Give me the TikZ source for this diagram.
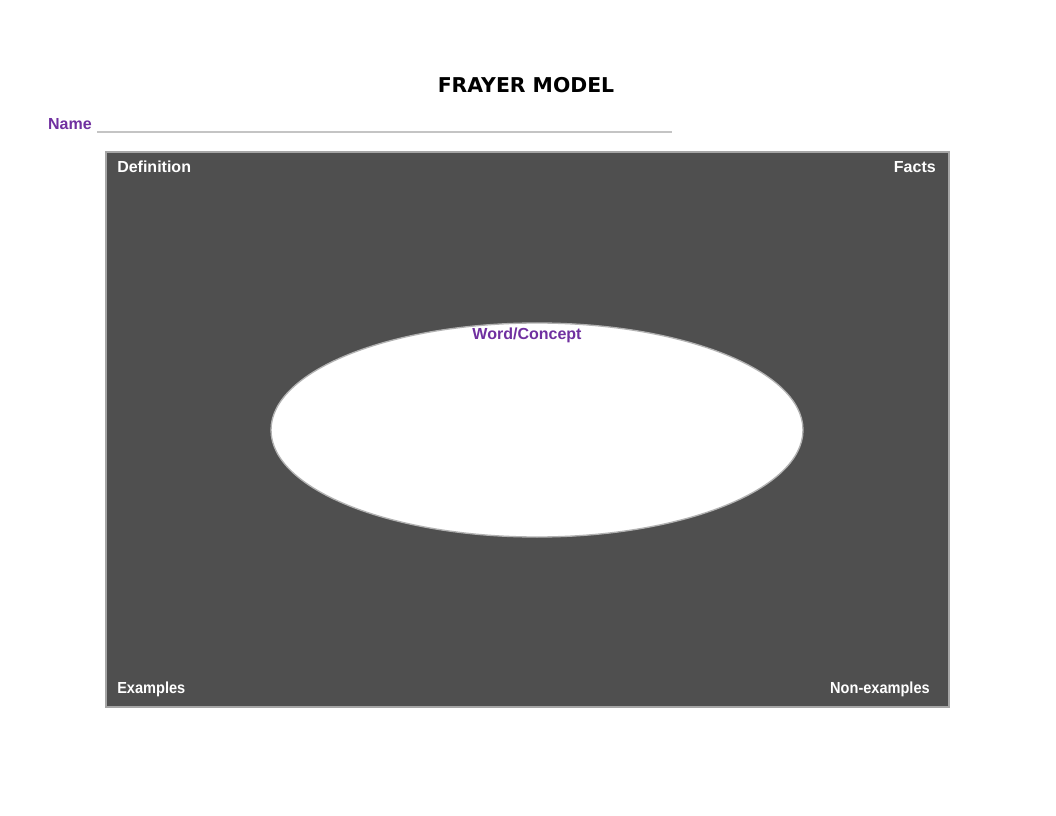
\documentclass[tikz,border=0pt]{standalone}
\usepackage{fontspec}
\setmainfont{Liberation Sans}
\newfontfamily\titlefont{DejaVu Sans}
\definecolor{boxgray}{HTML}{4F4F4F}
\definecolor{edgegray}{HTML}{A6A6A6}
\definecolor{linegray}{HTML}{C4C4C4}
\definecolor{labelpurple}{HTML}{7030A0}
\newcommand{\narrowtext}[1]{\scalebox{0.91}[1]{#1}}
\tikzset{
  corner/.style={text=white, font=\bfseries\fontsize{12pt}{14pt}\selectfont, inner sep=0pt},
  purplelabel/.style={text=labelpurple, font=\bfseries\fontsize{12pt}{14pt}\selectfont, inner sep=0pt}
}
\begin{document}
\begin{tikzpicture}[x=0.75pt, y=-0.75pt]
\useasboundingbox (0,0) rectangle (1056,816);
% Titulo
\node[font=\titlefont\bfseries\fontsize{15.3pt}{18pt}\selectfont, inner sep=0pt] (title) at (526,85) {FRAYER MODEL};
% Nombre
\node[purplelabel, anchor=east] (name) at (92,124) {Name};
\coordinate (lineend) at (672,132);
\draw[linegray, line width=0.8pt] (97,132) -- (lineend);
% Cuadro
\draw[edgegray, fill=boxgray, line width=0.8pt] (106,152) rectangle (949,707);
% Elipse
\draw[gray!60, fill=white, line width=1pt] (537,430) ellipse (266 and 107);
\node[purplelabel] (concept) at (527,335) {Word/Concept};
% Esquinas
\node[corner, anchor=west] (definition) at (117,167) {Definition};
\node[corner, anchor=east] (facts) at (936,167) {Facts};
\node[corner, anchor=west] (examples) at (117,689) {\narrowtext{Examples}};
\node[corner, anchor=east] (nonexamples) at (930,689) {\narrowtext{Non-examples}};
\end{tikzpicture}
\end{document}
